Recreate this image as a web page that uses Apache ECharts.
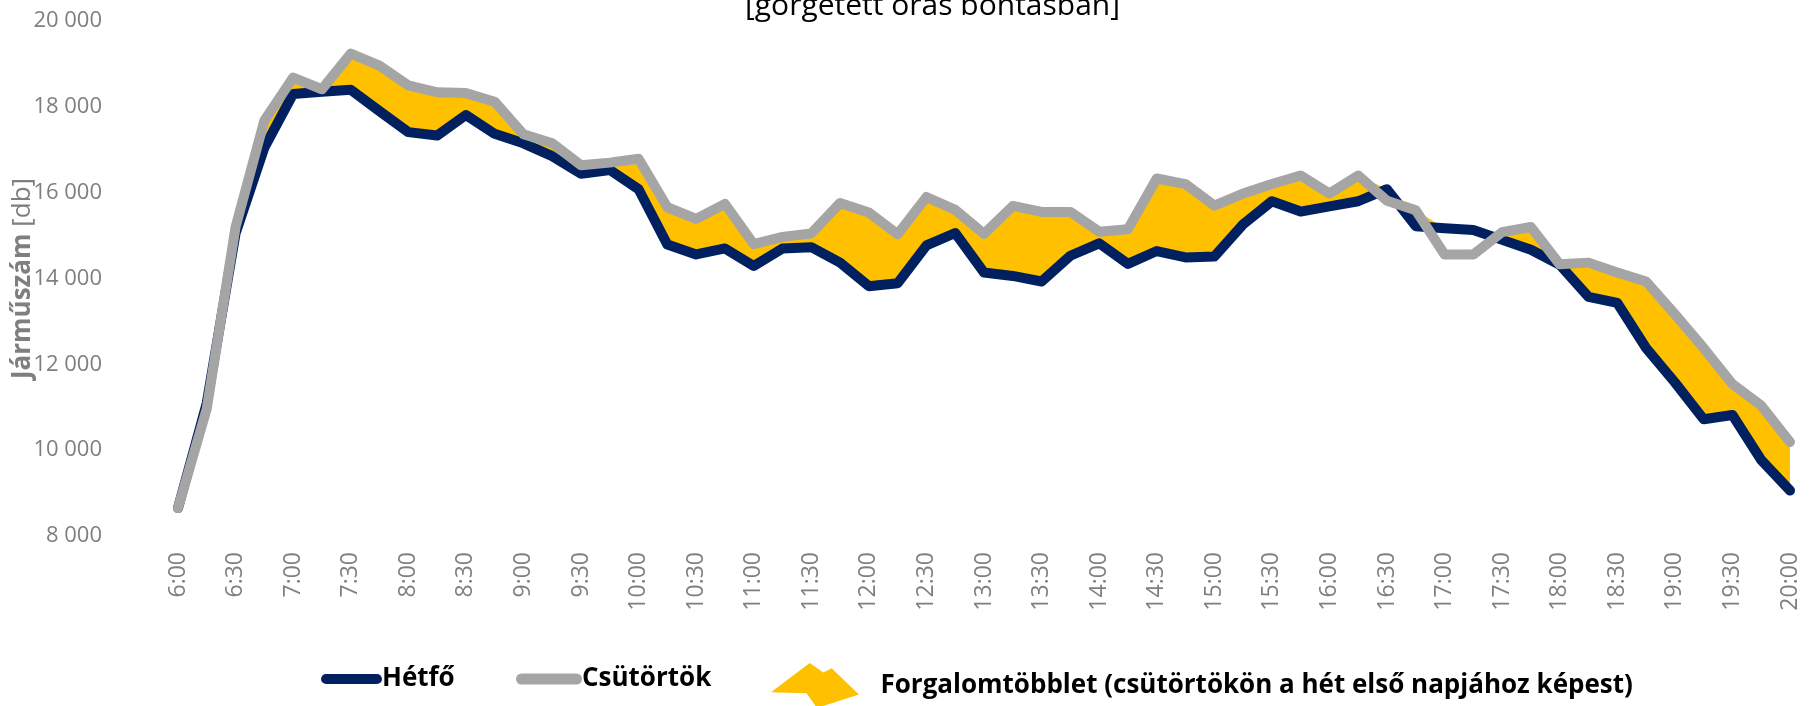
<!DOCTYPE html>
<html>
<head>
<meta charset="utf-8">
<script src="https://cdn.jsdelivr.net/npm/echarts@6/dist/echarts.min.js"></script>
<style>
  html, body { margin: 0; padding: 0; background: #fff; }
  #main { width: 1820px; height: 706px; }
</style>
</head>
<body>
<div id="main"></div>
<script>
  // idopontok (15 perces lepes)
  var times = ['6:00','6:15','6:30','6:45','7:00','7:15','7:30','7:45','8:00','8:15','8:30','8:45',
    '9:00','9:15','9:30','9:45','10:00','10:15','10:30','10:45','11:00','11:15','11:30','11:45',
    '12:00','12:15','12:30','12:45','13:00','13:15','13:30','13:45','14:00','14:15','14:30','14:45',
    '15:00','15:15','15:30','15:45','16:00','16:15','16:30','16:45','17:00','17:15','17:30','17:45',
    '18:00','18:15','18:30','18:45','19:00','19:15','19:30','19:45','20:00'];

  var hetfo = [8650, 11100, 15050, 17050, 18300, 18350, 18400, 17900, 17410, 17330, 17810, 17370,
    17150, 16850, 16440, 16530, 16080, 14790, 14560, 14700, 14290, 14700, 14730, 14370,
    13820, 13890, 14770, 15060, 14140, 14060, 13930, 14530, 14820, 14340, 14640, 14490,
    14510, 15260, 15800, 15560, 15680, 15800, 16080, 15220, 15170, 15130, 14900, 14670,
    14320, 13570, 13430, 12380, 11580, 10720, 10820, 9770, 9060];

  var csutortok = [8650, 10970, 15200, 17680, 18680, 18410, 19240, 18960, 18500, 18340, 18320, 18120,
    17360, 17150, 16640, 16700, 16790, 15660, 15390, 15740, 14800, 14970, 15050, 15760,
    15540, 15030, 15900, 15600, 15040, 15690, 15550, 15550, 15090, 15150, 16330, 16200,
    15700, 15980, 16200, 16400, 15980, 16400, 15810, 15590, 14560, 14560, 15080, 15200,
    14330, 14370, 14140, 13930, 13170, 12380, 11540, 11040, 10190];

  var yTicks = [8000, 10000, 12000, 14000, 16000, 18000, 20000];

  var nevTobblet = 'Forgalomtöbblet (csütörtökön a hét első napjához képest)';

  // a sarga terulet: csak ahol csutortok > hetfo
  var tobblet = csutortok.map(function (v, i) { return Math.max(v - hetfo[i], 0); });

  function ezres(v) {
    return String(v).replace(/\B(?=(\d{3})+(?!\d))/g, ' ');
  }

  var font = 'Open Sans';
  var stadium = 'path://M5,0 L55,0 A5,5 0 0 1 55,10 L5,10 A5,5 0 0 1 5,0 Z';
  var foltIcon = 'path://M0,28 L37,0 L50,9 L58,5 L84,30 L44,43 L34,29 Z';

  var myChart = echarts.init(document.getElementById('main'));

  var legendText = { color: '#000', fontWeight: 'bold', fontSize: 26, fontFamily: font, padding: [0, 0, 0, -5] };

  var option = {
    animation: false,
    title: {
      text: '[görgetett órás bontásban]',
      left: 740,
      top: -14,
      textStyle: { color: '#000', fontWeight: 'normal', fontSize: 30, fontFamily: font }
    },
    legend: [
      {
        data: ['Hétfő'], left: 316, top: 661, icon: stadium,
        itemWidth: 61, itemHeight: 11, textStyle: legendText
      },
      {
        data: ['Csütörtök'], left: 511, top: 661, icon: stadium,
        itemWidth: 66, itemHeight: 11, textStyle: legendText
      },
      {
        data: [nevTobblet], left: 766, top: 658, icon: foltIcon,
        itemWidth: 93, itemHeight: 45,
        textStyle: { color: '#000', fontWeight: 'bold', fontSize: 26, fontFamily: font, padding: [0, 0, 0, 14] }
      }
    ],
    grid: {
      left: 178,
      right: 30,
      top: 21,
      bottom: 170,
      outerBoundsMode: 'none'
    },
    xAxis: {
      type: 'category',
      data: times,
      boundaryGap: false,
      axisLine: { show: false },
      axisTick: { show: false },
      axisLabel: {
        interval: 1,
        rotate: 90,
        margin: 16,
        color: '#7f7f7f',
        fontSize: 23,
        fontFamily: font
      }
    },
    yAxis: {
      type: 'value',
      min: yTicks[0],
      max: yTicks[yTicks.length - 1],
      interval: 2000,
      splitLine: { show: false },
      axisLine: { show: false },
      axisTick: { show: false },
      axisLabel: {
        margin: 76,
        color: '#7f7f7f',
        fontSize: 22,
        fontFamily: font,
        formatter: ezres
      },
      name: '{b|Járműszám} [db]',
      nameLocation: 'middle',
      nameGap: 142,
      nameMoveOverlap: false,
      nameTextStyle: {
        color: '#7f7f7f',
        fontSize: 26,
        fontFamily: font,
        rich: {
          b: { color: '#7f7f7f', fontSize: 26, fontFamily: font, fontWeight: 'bold' }
        }
      }
    },
    series: [
      {
        name: 'alap',
        type: 'line',
        stack: 'tobblet',
        data: hetfo,
        symbol: 'none',
        silent: true,
        lineStyle: { width: 0, opacity: 0 },
        z: 1
      },
      {
        name: nevTobblet,
        type: 'line',
        stack: 'tobblet',
        data: tobblet,
        symbol: 'none',
        silent: true,
        itemStyle: { color: '#FFC000' },
        lineStyle: { width: 0, opacity: 0 },
        areaStyle: { color: '#FFC000', opacity: 1 },
        z: 1
      },
      {
        name: 'Hétfő',
        type: 'line',
        data: hetfo,
        symbol: 'none',
        itemStyle: { color: '#002060' },
        lineStyle: { color: '#002060', width: 10, cap: 'round', join: 'round' },
        z: 3
      },
      {
        name: 'Csütörtök',
        type: 'line',
        data: csutortok,
        symbol: 'none',
        itemStyle: { color: '#A5A5A5' },
        lineStyle: { color: '#A5A5A5', width: 10, cap: 'round', join: 'round' },
        z: 4
      }
    ]
  };

  myChart.setOption(option);
</script>
</body>
</html>
